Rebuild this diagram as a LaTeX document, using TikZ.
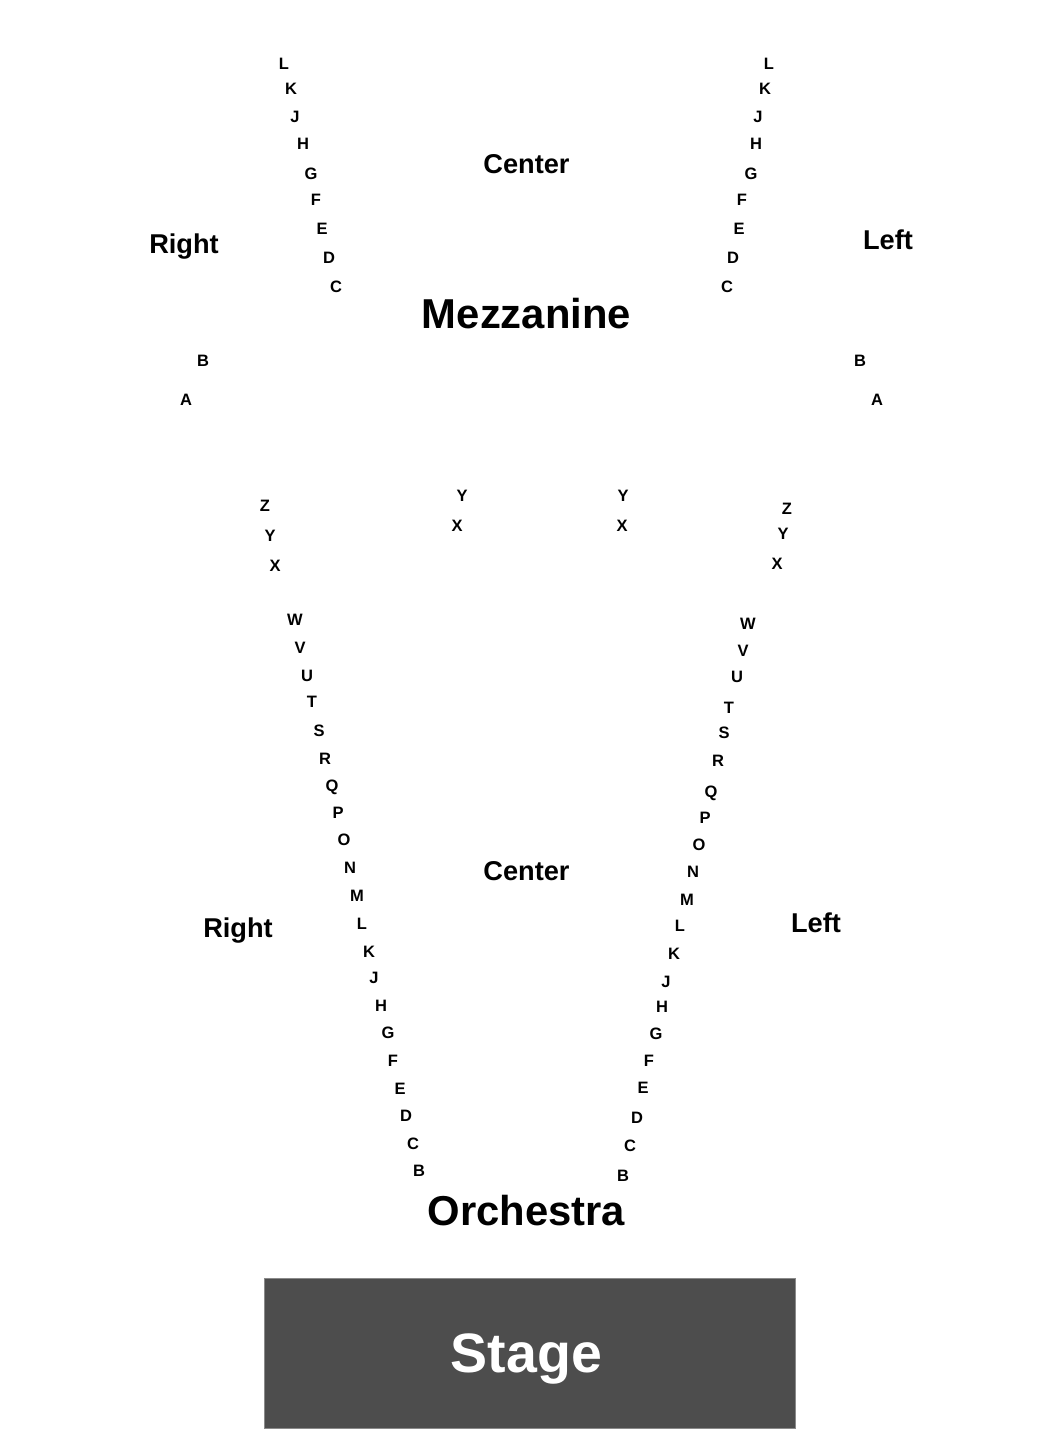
\documentclass[tikz,border=0pt]{standalone}
\usepackage{fontspec}
\setmainfont{Liberation Sans}
\definecolor{stagegray}{HTML}{4D4D4D}
\definecolor{stageedge}{HTML}{8A8A8A}
\tikzset{
  seat/.style={font=\bfseries\fontsize{16.5}{18}\selectfont, inner sep=0pt, text height=11.8pt, text depth=0pt},
  section/.style={font=\bfseries\fontsize{27.2}{30}\selectfont, inner sep=0pt, text height=19.5pt, text depth=0pt},
  level/.style={font=\bfseries\fontsize{41.8}{46}\selectfont, inner sep=0pt, text height=29.9pt, text depth=0pt},
  stagebox/.style={fill=stagegray, draw=stageedge, line width=1pt, text=white, font=\bfseries\fontsize{55.5}{60}\selectfont, text height=39.7pt, text depth=0pt}
}
\begin{document}
\begin{tikzpicture}[x=1pt,y=-1pt]
\useasboundingbox (0,0) rectangle (1050,1450);
% Mezzanine right section (left side of picture)
\foreach \t/\x/\y in {L/284/64,K/291/89,J/295/117,H/303/144,G/311/174,F/316/200,E/322/229,D/329/258,C/336/287,B/203/361,A/186/400}
  \node[seat] (mr\t) at (\x,\y) {\t};
% Mezzanine left section (right side of picture)
\foreach \t/\x/\y in {L/769/64,K/765/89,J/758/117,H/756/144,G/751/174,F/742/200,E/739/229,D/733/258,C/727/287,B/860/361,A/877/400}
  \node[seat] (ml\t) at (\x,\y) {\t};
\node[section] (mright) at (184,244) {Right};
\node[section] (mleft) at (888,240) {Left};
\node[section] (mcenter) at (526.5,164) {Center};
\node[level] (mezz) at (526.5,314) {Mezzanine};
% Orchestra right section (left side)
\foreach \t/\x/\y in {Z/265/506,Y/270/536,X/275/566,W/295/620,V/300/648,U/307/676,T/312/702,S/319/731,R/325/759,Q/332/786,P/338/813,O/344/840,N/350/868,M/357/896,L/362/924,K/369/952,J/374/978,H/381/1006,G/388/1033,F/393/1061,E/400/1089,D/406/1116,C/413/1144,B/419/1171}
  \node[seat] (or\t) at (\x,\y) {\t};
% Orchestra left section (right side)
\foreach \t/\x/\y in {Z/787/509,Y/783/534,X/777/564,W/748/624,V/743/651,U/737/677,T/729/708,S/724/733,R/718/761,Q/711/792,P/705/818,O/699/845,N/693/872,M/687/900,L/680/926,K/674/954,J/666/982,H/662/1007,G/656/1034,F/649/1061,E/643/1088,D/637/1118,C/630/1146,B/623/1176}
  \node[seat] (ol\t) at (\x,\y) {\t};
% Orchestra center rows
\node[seat] (ocY1) at (462,496) {Y};
\node[seat] (ocX1) at (457,526) {X};
\node[seat] (ocY2) at (623,496) {Y};
\node[seat] (ocX2) at (622,526) {X};
\node[section] (oright) at (238,928) {Right};
\node[section] (oleft) at (816,923) {Left};
\node[section] (ocenter) at (526.5,871) {Center};
\node[level] (orch) at (526.5,1211) {Orchestra};
\node[stagebox, minimum width=531pt, minimum height=150pt, inner sep=0pt] (stage) at (529.5,1353) {Stage\kern6pt};
\end{tikzpicture}
\end{document}
